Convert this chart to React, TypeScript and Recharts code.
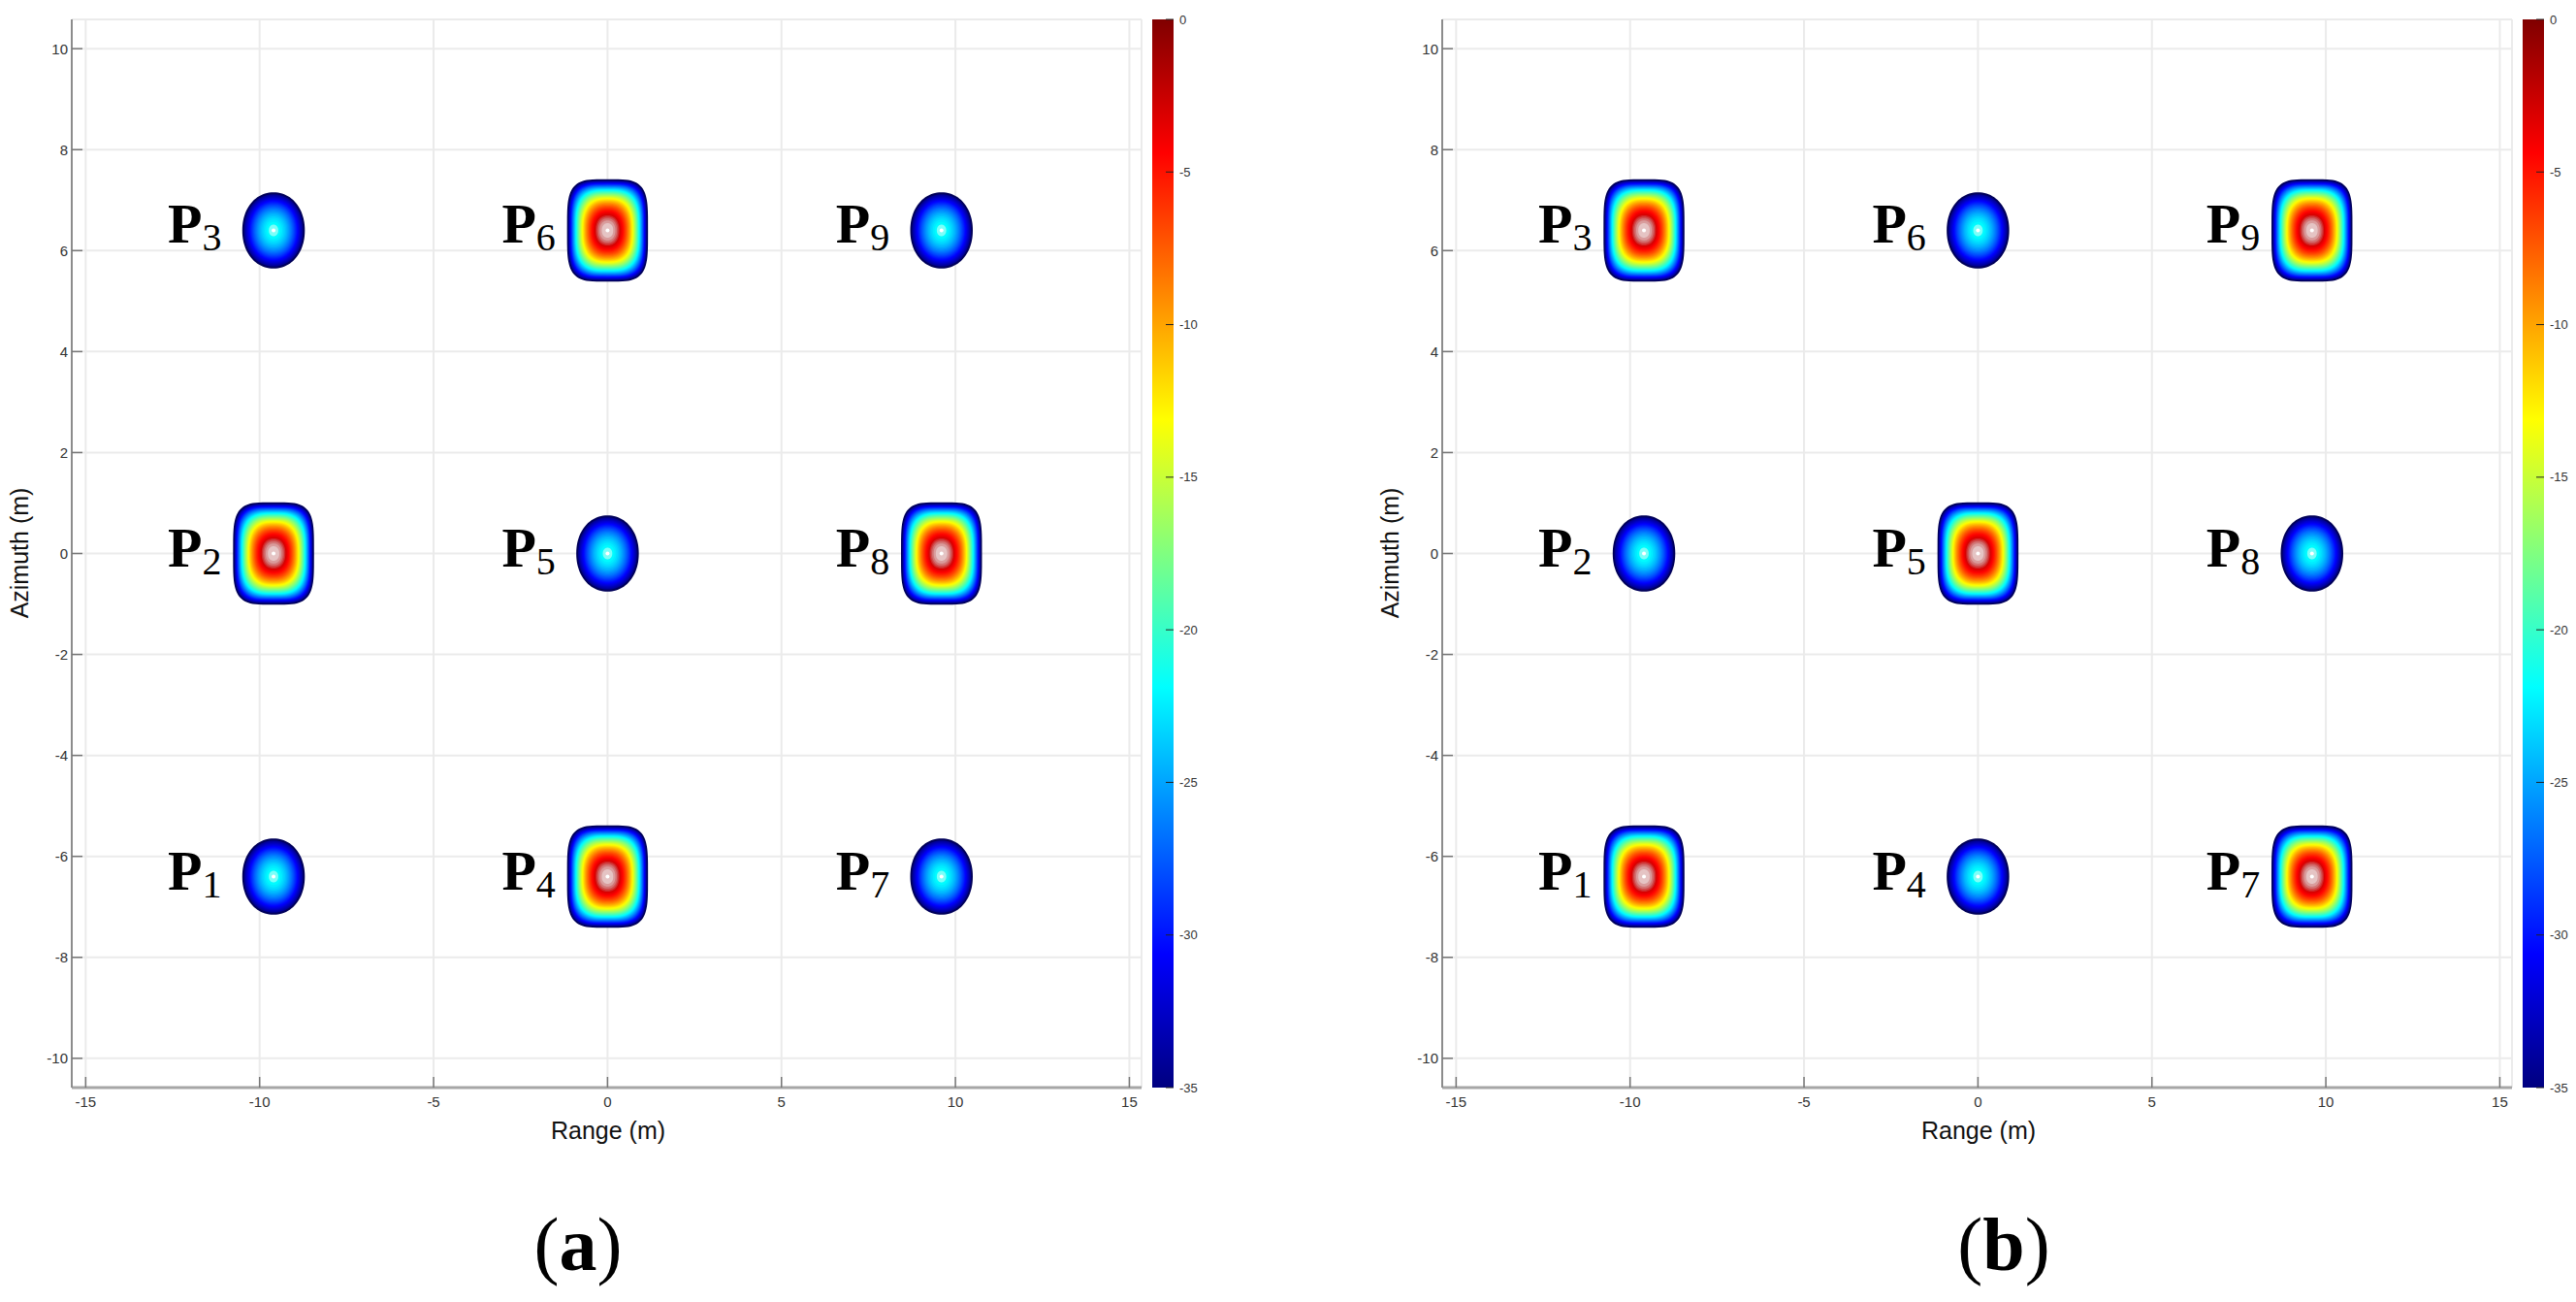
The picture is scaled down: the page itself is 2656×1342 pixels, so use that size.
import { Bar, BarChart, CartesianGrid, Scatter, ScatterChart, XAxis, YAxis } from "recharts";

const RANGE_TICKS = [-15, -10, -5, 0, 5, 10, 15];
const AZIMUTH_TICKS = [-10, -8, -6, -4, -2, 0, 2, 4, 6, 8, 10];
const DB_TICKS = [0, -5, -10, -15, -20, -25, -30, -35];

const TARGET_NAMES = ["1", "2", "3", "4", "5", "6", "7", "8", "9"];
const TARGET_RANGE = [-9.6, -9.6, -9.6, 0, 0, 0, 9.6, 9.6, 9.6];
const TARGET_AZIMUTH = [-6.4, 0, 6.4, -6.4, 0, 6.4, -6.4, 0, 6.4];
// peak level of each target (dB)
const PEAK_A = [-21, 0, -21, 0, -21, 0, -21, 0, -21];
const PEAK_B = [0, -21, 0, -21, 0, -21, 0, -21, 0];

const DB_FLOOR = -35;
const DB_TOP = 0;
const X_DOMAIN = [-15.4, 15.35];
const Y_DOMAIN = [-10.58, 10.58];

const SANS = "'Liberation Sans', Arial, sans-serif";
const SERIF = "'Liberation Serif', 'Times New Roman', serif";

const clamp = (v: number) => Math.max(0, Math.min(1, v));

function jetRgb(v: number) {
  const t = clamp(v);
  return [
    clamp(1.5 - Math.abs(4 * t - 3)),
    clamp(1.5 - Math.abs(4 * t - 2)),
    clamp(1.5 - Math.abs(4 * t - 1)),
  ];
}

function rgbStr(c: number[]) {
  return `rgb(${c.map((x) => Math.round(x * 255)).join(",")})`;
}

function ringColor(level: number, peak: number, strong: boolean) {
  const base = jetRgb((level - DB_FLOOR) / (DB_TOP - DB_FLOOR));
  const w = strong ? 3 : 1;
  const t = clamp((level - (peak - w)) / w) * 0.92;
  return rgbStr(base.map((c) => c + (1 - c) * t));
}

function superellipse(cx: number, cy: number, a: number, b: number, n: number) {
  const pts: string[] = [];
  const N = 96;
  for (let i = 0; i < N; i++) {
    const th = (i / N) * Math.PI * 2;
    const c = Math.cos(th);
    const s = Math.sin(th);
    const x = cx + a * Math.sign(c) * Math.pow(Math.abs(c), 2 / n);
    const y = cy + b * Math.sign(s) * Math.pow(Math.abs(s), 2 / n);
    pts.push(`${x.toFixed(2)},${y.toFixed(2)}`);
  }
  return `M${pts.join("L")}Z`;
}

function TargetMark(props: any) {
  const { cx, cy, payload } = props;
  if (cx == null || cy == null) return null;
  const peak = payload.peak;
  const strong = peak > DB_FLOOR + 20;
  const ax = strong ? 40.5 : 31;
  const by = strong ? 51.5 : 38;
  const falloff = strong ? 2.2 : 1.8;
  const rings = [];
  for (let L = DB_FLOOR; L < peak; L += 0.5) {
    const f = (L - DB_FLOOR) / (peak - DB_FLOOR);
    const r = Math.pow(1 - f, 1 / falloff);
    if (r < 0.03) break;
    const n = strong ? 2.2 + 2.0 * r * r * r : 2.1;
    const outer = L === DB_FLOOR;
    rings.push(
      <path
        key={L}
        d={superellipse(cx, cy, ax * r, by * r, n)}
        fill={ringColor(L, peak, strong)}
        stroke={outer ? "#00005a" : "none"}
        strokeWidth={outer ? 2.5 : 0}
      />
    );
  }
  return (
    <g>
      {rings}
      <circle cx={cx} cy={cy} r={2} fill="#fff" />
      <text x={cx - 109} y={cy + 13} fontFamily={SERIF} fontWeight="bold" fontSize={58} fill="#000">
        P
        <tspan fontSize={40} fontWeight="normal" dy={8}>
          {payload.name}
        </tspan>
      </text>
    </g>
  );
}

const tickStyle = { fill: "#333", fontSize: 15, fontFamily: SANS };
const blank = () => "";

function Panel({ left, peaks, gradId }: { left: number; peaks: number[]; gradId: string }) {
  const data = TARGET_NAMES.map((name, i) => ({
    name,
    range: TARGET_RANGE[i],
    azimuth: TARGET_AZIMUTH[i],
    peak: peaks[i],
  }));
  const colorbar = [{ name: "dB", span: [DB_FLOOR, DB_TOP] }];
  const stops = [0, 0.125, 0.25, 0.375, 0.5, 0.625, 0.75, 0.875, 1];

  return (
    <>
      <div style={{ position: "absolute", left, top: 0 }}>
        <ScatterChart width={1190} height={1200} margin={{ top: 20, right: 13, bottom: 49, left: 24 }}>
          <CartesianGrid stroke="#ebebeb" strokeWidth={2} />
          <XAxis
            type="number"
            dataKey="range"
            domain={X_DOMAIN}
            ticks={RANGE_TICKS}
            interval={0}
            height={30}
            tickSize={-11}
            tickMargin={20}
            tick={tickStyle}
            tickLine={{ stroke: "#777", strokeWidth: 1.5 }}
            axisLine={{ stroke: "#a6a6a6", strokeWidth: 3 }}
          />
          <XAxis
            xAxisId="top"
            orientation="top"
            type="number"
            domain={X_DOMAIN}
            ticks={RANGE_TICKS}
            interval={0}
            height={0}
            tickSize={-11}
            tickFormatter={blank}
            tickLine={{ stroke: "#777", strokeWidth: 1.5 }}
            axisLine={{ stroke: "#a6a6a6", strokeWidth: 3 }}
          />
          <YAxis
            type="number"
            dataKey="azimuth"
            domain={Y_DOMAIN}
            ticks={AZIMUTH_TICKS}
            interval={0}
            width={50}
            tickSize={-11}
            tickMargin={15}
            tick={tickStyle}
            tickLine={{ stroke: "#777", strokeWidth: 1.5 }}
            axisLine={{ stroke: "#8c8c8c", strokeWidth: 2 }}
          />
          <YAxis
            yAxisId="right"
            orientation="right"
            type="number"
            domain={Y_DOMAIN}
            ticks={AZIMUTH_TICKS}
            interval={0}
            width={0}
            tickSize={-11}
            tickFormatter={blank}
            tickLine={{ stroke: "#777", strokeWidth: 1.5 }}
            axisLine={{ stroke: "#8c8c8c", strokeWidth: 2 }}
          />
          <Scatter data={data} shape={TargetMark} isAnimationActive={false} />
        </ScatterChart>
      </div>

      <div style={{ position: "absolute", left: left + 1188, top: 0 }}>
        <BarChart
          width={60}
          height={1200}
          data={colorbar}
          margin={{ top: 20, right: 0, bottom: 79, left: 0 }}
          barCategoryGap={0}
        >
          <defs>
            <linearGradient id={gradId} x1="0" y1="1" x2="0" y2="0">
              {stops.map((s) => (
                <stop key={s} offset={s} stopColor={rgbStr(jetRgb(s))} />
              ))}
            </linearGradient>
          </defs>
          <XAxis dataKey="name" hide />
          <YAxis
            orientation="right"
            type="number"
            domain={[DB_FLOOR, DB_TOP]}
            ticks={DB_TICKS}
            interval={0}
            width={38}
            axisLine={false}
            tickSize={-8}
            tickMargin={14}
            tick={{ fill: "#333", fontSize: 13, fontFamily: SANS }}
            tickLine={{ stroke: "#222", strokeWidth: 1 }}
          />
          <Bar dataKey="span" fill={`url(#${gradId})`} isAnimationActive={false} />
        </BarChart>
      </div>

      <div
        style={{
          position: "absolute",
          left: left + 627,
          top: 1165,
          transform: "translate(-50%, -50%)",
          fontFamily: SANS,
          fontSize: 25,
          color: "#111",
          whiteSpace: "nowrap",
        }}
      >
        Range (m)
      </div>
      <div
        style={{
          position: "absolute",
          left: left + 20,
          top: 570,
          transform: "translate(-50%, -50%) rotate(-90deg)",
          fontFamily: SANS,
          fontSize: 25,
          color: "#111",
          whiteSpace: "nowrap",
        }}
      >
        Azimuth (m)
      </div>
    </>
  );
}

function Caption({ x, letter }: { x: number; letter: string }) {
  return (
    <div
      style={{
        position: "absolute",
        left: x,
        top: 1283,
        transform: "translate(-50%, -50%)",
        fontFamily: SERIF,
        fontSize: 78,
        color: "#000",
        whiteSpace: "nowrap",
        lineHeight: 1,
      }}
    >
      (<b>{letter}</b>)
    </div>
  );
}

export default function App() {
  return (
    <div
      style={{
        position: "absolute",
        left: 0,
        top: 0,
        width: 2656,
        height: 1342,
        background: "#fff",
        overflow: "hidden",
      }}
    >
      <Panel left={0} peaks={PEAK_A} gradId="jet-a" />
      <Panel left={1413} peaks={PEAK_B} gradId="jet-b" />
      <Caption x={596} letter="a" />
      <Caption x={2066} letter="b" />
    </div>
  );
}
